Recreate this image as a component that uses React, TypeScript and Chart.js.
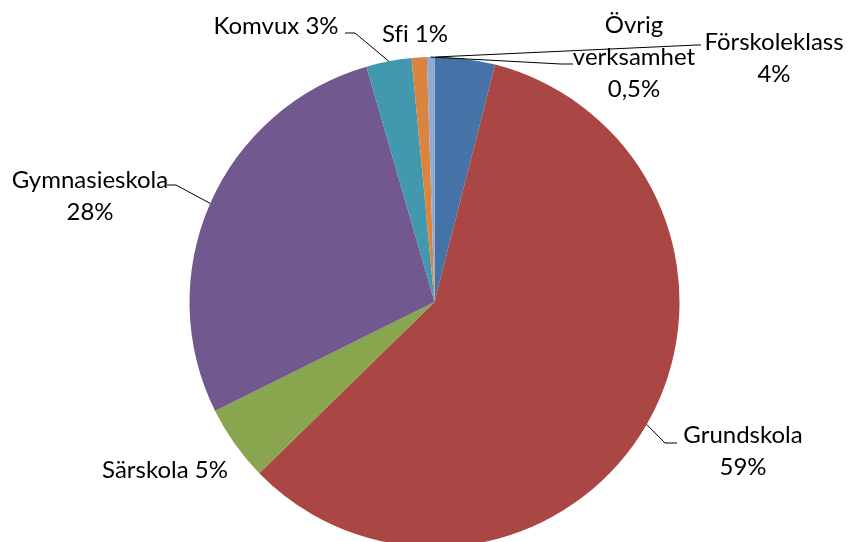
import React, { useEffect, useRef } from "react";
import { Chart, registerables } from "chart.js";

Chart.register(...registerables);

const categories = ["Förskoleklass", "Grundskola", "Särskola", "Gymnasieskola", "Komvux", "Sfi", "Övrig verksamhet"];
const values = [4, 59, 5, 28, 3, 1, 0.5];
const percentLabels = ["4%", "59%", "5%", "28%", "3%", "1%", "0,5%"];
const colors = ["#4572A7", "#AA4643", "#89A54E", "#71588F", "#4198AF", "#DB843D", "#93A9CF"];

// label layout: text mode, center x, first-line center y, leader (elbow, end) and anchor fraction along slice
type Layout = {
  mode: "split" | "inline" | "wrap";
  x: number;
  y: number;
  leader?: { anchor: number; pts: [number, number][] };
};
const layouts: Layout[] = [
  { mode: "split", x: 774, y: 42, leader: { anchor: 0.02, pts: [[697, 45], [701, 45]] } },
  { mode: "split", x: 743, y: 435, leader: { anchor: 0.5, pts: [[665, 443], [677, 443]] } },
  { mode: "inline", x: 165, y: 470 },
  { mode: "split", x: 90, y: 180, leader: { anchor: 0.5, pts: [[176, 185], [167, 185]] } },
  { mode: "inline", x: 276, y: 26, leader: { anchor: 0.5, pts: [[355, 33], [345, 33]] } },
  { mode: "inline", x: 415, y: 34 },
  { mode: "wrap", x: 634, y: 25, leader: { anchor: 0.5, pts: [[561, 64], [573, 64]] } },
];

const FONT = "24px Lato";
const LINE_H = 32;

const labelPlugin = {
  id: "pieLabels",
  afterDraw(chart: any) {
    const ctx = chart.ctx;
    const meta = chart.getDatasetMeta(0);
    ctx.save();
    ctx.strokeStyle = "#000";
    ctx.lineWidth = 1;
    meta.data.forEach((arc: any, i: number) => {
      const lay = layouts[i];
      if (lay.leader) {
        const { x, y, startAngle, endAngle, outerRadius } = arc.getProps(["x", "y", "startAngle", "endAngle", "outerRadius"], true);
        const a = startAngle + (endAngle - startAngle) * lay.leader.anchor;
        const ax = x + Math.cos(a) * outerRadius;
        const ay = y + Math.sin(a) * outerRadius;
        ctx.beginPath();
        ctx.moveTo(ax, ay);
        lay.leader.pts.forEach((p) => ctx.lineTo(p[0], p[1]));
        ctx.stroke();
      }
    });
    ctx.fillStyle = "#000";
    ctx.font = FONT;
    ctx.textAlign = "center";
    ctx.textBaseline = "middle";
    try { (ctx as any).textRendering = "optimizeSpeed"; } catch (e) {}
    categories.forEach((name, i) => {
      const lay = layouts[i];
      let lines: string[];
      if (lay.mode === "split") lines = [name, percentLabels[i]];
      else if (lay.mode === "inline") lines = [name + " " + percentLabels[i]];
      else lines = [...name.split(" "), percentLabels[i]];
      lines.forEach((t, k) => ctx.fillText(t, lay.x, lay.y + k * LINE_H));
    });
    ctx.restore();
  },
};

export default function App() {
  const ref = useRef<HTMLCanvasElement>(null);
  useEffect(() => {
    if (!ref.current) return;
    const chart = new Chart(ref.current, {
      type: "pie",
      data: {
        labels: categories,
        datasets: [{ data: values, backgroundColor: colors, borderWidth: 0 }],
      },
      options: {
        animation: false,
        responsive: false,
        layout: { padding: { top: 57, bottom: 13, left: 189.5, right: 170.5 } },
        plugins: { legend: { display: false }, tooltip: { enabled: false } },
      },
      plugins: [labelPlugin],
    });
    return () => chart.destroy();
  }, []);
  return (
    <div style={{ position: "fixed", left: 0, top: 0, width: 850, height: 542, overflow: "hidden", background: "#fff" }}>
      <canvas ref={ref} width={850} height={560} style={{ display: "block" }} />
    </div>
  );
}
